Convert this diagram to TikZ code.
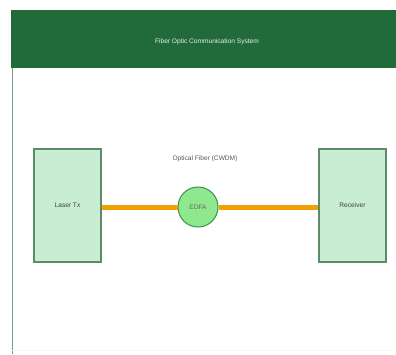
\documentclass[tikz,border=0pt]{standalone}
\usepackage{fontspec}
\setmainfont{Liberation Sans}
\definecolor{hdr}{HTML}{216B3A}
\definecolor{boxfill}{HTML}{C8EDD2}
\definecolor{boxline}{HTML}{5E8A6C}
\definecolor{edfafill}{HTML}{8EE98E}
\definecolor{edfaline}{HTML}{3F8F4A}
\definecolor{fiber}{HTML}{F2A100}
\definecolor{frame}{HTML}{7C9C86}
\begin{document}
\begin{tikzpicture}[x=1pt,y=-1pt,
  lbl/.style={font=\fontsize{6.6}{7.5}\selectfont, inner sep=0pt},
  device/.style={draw=boxline, line width=1.2pt, fill=boxfill, minimum width=67pt, minimum height=113pt, font=\fontsize{6.6}{7.5}\selectfont, text=black!75},
  amp/.style={circle, draw=edfaline, line width=1pt, fill=edfafill, minimum size=40pt, inner sep=0pt, font=\fontsize{6.6}{7.5}\selectfont, text=black!60},
  link/.style={draw=fiber, line width=5pt}]
\useasboundingbox (0,0) rectangle (396,354);
\fill[white] (0,0) rectangle (396,354);
% frame
\draw[frame, line width=1pt] (12,68) -- (12,354);
\draw[green!8, line width=0.8pt] (12,350) -- (396,350);
% header
\fill[hdr] (11,10) rectangle (396,68);
\node[lbl, text=white!90!hdr] (title) at (207,42) {Fiber Optic Communication System};
% devices
\node[device] (tx) at (67.5,205.5) {Laser Tx};
\node[device] (rx) at (352.5,205.5) {Receiver};
\node[amp] (edfa) at (198,207) {EDFA};
\draw[link] (tx.east |- edfa.west) -- (edfa.west);
\draw[link] (edfa.east) -- (rx.west |- edfa.east);
\node[lbl, text=black!65] (fib) at (205,159) {Optical Fiber (CWDM)};
\end{tikzpicture}
\end{document}
